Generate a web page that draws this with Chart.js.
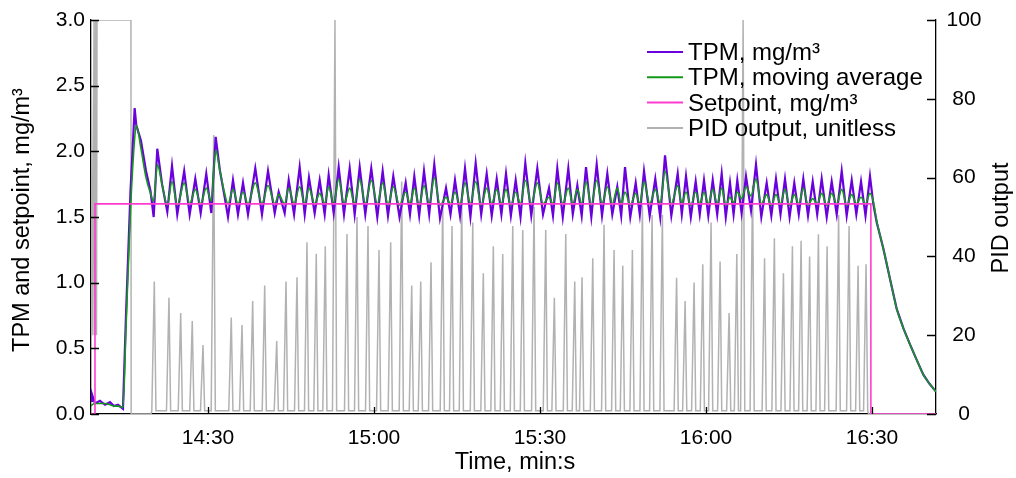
<!DOCTYPE html>
<html>
<head>
<meta charset="utf-8">
<script src="https://cdn.jsdelivr.net/npm/chart.js@4.4.1/dist/chart.umd.min.js"></script>
<style>
  html, body { margin: 0; padding: 0; background: #fff; }
</style>
</head>
<body>
<canvas id="pidCanvas" width="1016" height="478"></canvas>
<script>
// time in seconds (14:30 = 870 s)
const xMin = 848.86;
const xMax = 1001.57;
const tickSeconds = [870, 900, 930, 960, 990];
const tickLabels = ['14:30', '15:00', '15:30', '16:00', '16:30'];

// TPM raw / moving average, sampled at peaks and troughs
const tpmTime = [
  848.86, 849.04, 849.58, 850.48, 851.40, 852.29, 853.00, 853.74, 854.64, 855.18,
  856.00, 856.75, 857.04, 857.89, 858.80, 859.60, 860.19, 860.84, 861.70, 862.65,
  863.50, 864.45, 865.70, 866.69, 867.71, 868.68, 869.69, 870.60, 871.39, 872.17,
  872.90, 873.62, 874.52, 875.42, 876.33, 877.23, 878.55, 879.76, 880.85, 882.06,
  882.78, 883.86, 884.59, 885.56, 886.57, 887.48, 888.25, 889.28, 890.19, 891.09,
  891.81, 892.72, 893.62, 894.58, 895.61, 896.51, 897.42, 898.43, 899.51, 900.60,
  901.57, 902.53, 903.49, 904.61, 905.73, 906.51, 907.29, 908.17, 909.04, 909.98,
  910.90, 911.93, 913.02, 913.83, 914.64, 915.55, 916.45, 917.43, 918.38, 919.38,
  920.37, 921.28, 922.18, 923.03, 923.86, 924.74, 925.61, 926.48, 927.35, 928.43,
  929.52, 930.55, 931.63, 932.35, 933.13, 934.12, 935.12, 935.93, 936.75, 937.54,
  938.32, 939.28, 940.25, 941.21, 942.17, 943.07, 943.97, 944.68, 945.37, 946.32,
  947.30, 948.04, 948.80, 949.83, 950.84, 951.73, 952.60, 953.74, 954.89, 955.63,
  956.39, 957.26, 958.14, 958.88, 959.64, 960.42, 961.22, 962.03, 962.84, 963.58,
  964.34, 964.99, 965.66, 966.44, 967.23, 968.14, 969.04, 970.00, 970.97, 971.81,
  972.65, 973.47, 974.28, 975.11, 975.96, 976.77, 977.59, 978.44, 979.29, 980.10,
  980.91, 981.82, 982.72, 983.63, 984.53, 985.43, 986.34, 987.17, 988.02, 988.83,
  989.64, 990.24, 990.85, 992.05, 993.30, 994.47, 995.70, 996.87, 998.10, 999.28,
  1000.40, 1001.57
];
const tpmRaw = [
  0.10, 0.15, 0.08, 0.10, 0.07, 0.09, 0.06, 0.07, 0.04, 0.75,
  1.70, 2.33, 2.20, 2.08, 1.85, 1.70, 1.50, 2.02, 1.75, 1.54,
  1.89, 1.52, 1.85, 1.52, 1.79, 1.53, 1.83, 1.53, 2.11, 1.85,
  1.68, 1.50, 1.78, 1.52, 1.76, 1.52, 1.87, 1.52, 1.85, 1.53,
  1.69, 1.53, 1.78, 1.52, 1.88, 1.52, 1.80, 1.53, 1.78, 1.52,
  1.82, 1.53, 1.88, 1.52, 1.87, 1.52, 1.88, 1.52, 1.87, 1.50,
  1.85, 1.51, 1.81, 1.50, 1.76, 1.52, 1.81, 1.51, 1.85, 1.52,
  1.90, 1.49, 1.72, 1.52, 1.78, 1.51, 1.87, 1.50, 1.91, 1.52,
  1.83, 1.51, 1.79, 1.52, 1.83, 1.51, 1.78, 1.50, 1.91, 1.51,
  1.87, 1.52, 1.72, 1.51, 1.87, 1.50, 1.87, 1.52, 1.74, 1.51,
  1.88, 1.50, 1.90, 1.51, 1.83, 1.52, 1.73, 1.51, 1.88, 1.50,
  1.76, 1.52, 1.85, 1.51, 1.79, 1.50, 1.97, 1.51, 1.83, 1.52,
  1.81, 1.50, 1.77, 1.52, 1.78, 1.51, 1.78, 1.52, 1.83, 1.50,
  1.76, 1.52, 1.78, 1.53, 1.81, 1.55, 1.90, 1.50, 1.76, 1.51,
  1.79, 1.52, 1.79, 1.50, 1.76, 1.52, 1.79, 1.51, 1.77, 1.52,
  1.79, 1.50, 1.77, 1.52, 1.85, 1.51, 1.78, 1.52, 1.77, 1.51,
  1.81, 1.60, 1.46, 1.26, 1.02, 0.80, 0.65, 0.53, 0.41, 0.30,
  0.23, 0.17
];
const tpmAvg = [
  0.06, 0.07, 0.08, 0.08, 0.08, 0.07, 0.06, 0.06, 0.05, 0.65,
  1.55, 2.10, 2.20, 2.02, 1.80, 1.68, 1.62, 1.90, 1.75, 1.59,
  1.77, 1.59, 1.76, 1.60, 1.71, 1.60, 1.72, 1.62, 2.01, 1.85,
  1.70, 1.60, 1.71, 1.60, 1.69, 1.60, 1.76, 1.60, 1.74, 1.60,
  1.67, 1.60, 1.72, 1.60, 1.73, 1.60, 1.72, 1.60, 1.68, 1.60,
  1.73, 1.60, 1.79, 1.60, 1.72, 1.60, 1.79, 1.60, 1.78, 1.60,
  1.76, 1.59, 1.73, 1.59, 1.69, 1.60, 1.72, 1.59, 1.74, 1.60,
  1.80, 1.59, 1.65, 1.60, 1.69, 1.59, 1.76, 1.60, 1.77, 1.59,
  1.72, 1.60, 1.71, 1.60, 1.71, 1.59, 1.69, 1.60, 1.78, 1.60,
  1.76, 1.60, 1.65, 1.60, 1.76, 1.60, 1.72, 1.60, 1.71, 1.60,
  1.77, 1.59, 1.78, 1.60, 1.73, 1.60, 1.72, 1.60, 1.69, 1.59,
  1.68, 1.60, 1.77, 1.60, 1.71, 1.60, 1.85, 1.60, 1.74, 1.60,
  1.69, 1.59, 1.69, 1.60, 1.69, 1.60, 1.71, 1.60, 1.72, 1.59,
  1.65, 1.61, 1.69, 1.64, 1.73, 1.66, 1.79, 1.60, 1.67, 1.59,
  1.67, 1.60, 1.71, 1.59, 1.67, 1.60, 1.72, 1.59, 1.64, 1.60,
  1.68, 1.59, 1.68, 1.60, 1.71, 1.59, 1.67, 1.60, 1.65, 1.60,
  1.68, 1.62, 1.47, 1.26, 1.02, 0.80, 0.65, 0.53, 0.41, 0.30,
  0.23, 0.17
];

// setpoint, mg/m3
const spTime = [848.86, 849.58, 849.58, 989.80, 989.80, 1001.57];
const spValue = [0, 0, 1.6, 1.6, 0, 0];

// PID output: saturated start, one narrow pulse per cycle, zero at the end
const pidStartTime = [848.86, 849.20, 849.40, 849.55, 849.70, 849.85, 849.95, 856.08, 856.12, 859.70];
const pidStartValue = [100, 20, 100, 20, 100, 20, 100, 100, 0, 0];
const pidPeakTime = [
  860.30, 862.95, 865.07, 867.16, 869.10, 871.03, 874.21, 876.15, 878.08, 880.25,
  882.42, 884.10, 886.09, 887.89, 889.57, 891.20, 892.95, 895.12, 896.93, 898.92,
  900.91, 903.02, 905.01, 906.82, 908.45, 910.31, 912.42, 914.10, 915.86, 917.85,
  919.76, 921.57, 923.27, 925.08, 926.89, 928.93, 931.04, 932.60, 934.66, 936.28,
  937.60, 939.54, 941.58, 943.39, 944.96, 946.70, 948.51, 950.26, 952.12, 954.69,
  956.23, 957.85, 959.42, 960.92, 962.55, 964.18, 965.57, 966.71, 968.42, 970.59,
  972.36, 974.00, 975.62, 977.19, 978.73, 980.32, 981.89, 983.97, 985.86, 987.49,
  988.93
];
const pidPeakValue = [
  33.6, 29.5, 25.6, 23.6, 17.5, 70.8, 24.5, 22.6, 28.7, 32.6,
  18.5, 33.6, 34.7, 43.6, 40.7, 42.6, 100, 45.7, 50.0, 47.7,
  41.6, 43.6, 59.0, 32.6, 33.6, 38.5, 53.9, 47.7, 53.9, 48.6,
  35.7, 42.6, 40.6, 47.7, 46.7, 52.6, 46.7, 29.5, 45.7, 33.6,
  34.7, 39.5, 48.0, 41.6, 37.6, 41.6, 53.0, 50.5, 50.5, 34.6,
  28.7, 33.4, 38.0, 48.6, 38.7, 25.6, 40.6, 100, 58.0, 39.5,
  44.6, 35.7, 42.6, 44.0, 40.0, 45.6, 42.6, 50.5, 47.7, 37.6,
  38.0
];
const pidBase = 0.8;
const pidEndTime = [989.40, 1001.57];
const pidEndValue = [0, 0];

const seriesNames = ['TPM, mg/m³', 'TPM, moving average', 'Setpoint, mg/m³', 'PID output, unitless'];
const seriesColors = ['#6a00dc', '#12991a', '#ff3ccf', '#b2b2b2'];

const tpmPoints = tpmTime.map((t, i) => ({x: t, y: tpmRaw[i]}));
const avgPoints = tpmTime.map((t, i) => ({x: t, y: tpmAvg[i]}));
const spPoints = spTime.map((t, i) => ({x: t, y: spValue[i]}));
const pidPoints = pidStartTime.map((t, i) => ({x: t, y: pidStartValue[i]}));
pidPeakTime.forEach((t, i) => {
  pidPoints.push({x: t - 0.45, y: pidBase});
  pidPoints.push({x: t, y: pidPeakValue[i]});
  pidPoints.push({x: t + 0.3, y: pidBase});
});
pidEndTime.forEach((t, i) => pidPoints.push({x: t, y: pidEndValue[i]}));

Chart.defaults.font.family = '"Liberation Sans", Arial, sans-serif';
Chart.defaults.font.size = 21;
Chart.defaults.color = '#000';

const FONT = '"Liberation Sans", Arial, sans-serif';

// inward tick marks, axis titles and legend
const decorations = {
  id: 'decorations',
  afterDatasetsDraw(chart) {
    const ctx = chart.ctx;
    const area = chart.chartArea;
    const sx = chart.scales.x, sy = chart.scales.y, sy1 = chart.scales.y1;
    ctx.save();
    ctx.strokeStyle = '#000';
    ctx.lineWidth = 1.3;
    ctx.beginPath();
    sy.ticks.forEach(tk => {
      const y = Math.round(sy.getPixelForValue(tk.value)) + 0.5;
      ctx.moveTo(area.left, y); ctx.lineTo(area.left + 8, y);
    });
    sy1.ticks.forEach(tk => {
      const y = Math.round(sy1.getPixelForValue(tk.value)) + 0.5;
      ctx.moveTo(area.right, y); ctx.lineTo(area.right - 9, y);
    });
    tickSeconds.forEach(v => {
      const x = Math.round(sx.getPixelForValue(v)) + 0.5;
      ctx.moveTo(x, area.bottom); ctx.lineTo(x, area.bottom - 7);
    });
    ctx.stroke();

    // legend
    ctx.font = '24px ' + FONT;
    ctx.textAlign = 'left';
    ctx.textBaseline = 'alphabetic';
    seriesNames.forEach((name, i) => {
      const y = 52 + i * 25.3;
      ctx.strokeStyle = seriesColors[i];
      ctx.lineWidth = 2;
      ctx.beginPath();
      ctx.moveTo(647, y); ctx.lineTo(683, y);
      ctx.stroke();
      ctx.fillStyle = '#000';
      ctx.fillText(name, 688, y + 8);
    });

    // axis titles
    ctx.font = '23.5px ' + FONT;
    ctx.textAlign = 'center';
    ctx.textBaseline = 'middle';
    ctx.fillText('Time, min:s', 515, 463);
    ctx.save();
    ctx.translate(23, 220);
    ctx.rotate(-Math.PI / 2);
    ctx.fillText('TPM and setpoint, mg/m³', 0, 0);
    ctx.restore();
    ctx.save();
    ctx.translate(1002, 218);
    ctx.rotate(-Math.PI / 2);
    ctx.fillText('PID output', 0, 0);
    ctx.restore();
    ctx.restore();
  }
};

const noEdgePadding = (scale) => {
  scale.paddingTop = 0;
  scale.paddingBottom = 0;
};

const ctxPid = document.getElementById('pidCanvas').getContext('2d');
const pidChart = new Chart(ctxPid, {
  type: 'line',
  data: {
    datasets: [
      {
        label: seriesNames[0],
        data: tpmPoints,
        borderColor: seriesColors[0],
        borderWidth: 2.2,
        yAxisID: 'y',
        order: 3
      },
      {
        label: seriesNames[1],
        data: avgPoints,
        borderColor: seriesColors[1],
        borderWidth: 1.6,
        cubicInterpolationMode: 'monotone',
        yAxisID: 'y',
        order: 2
      },
      {
        label: seriesNames[2],
        data: spPoints,
        borderColor: seriesColors[2],
        borderWidth: 1.6,
        yAxisID: 'y',
        order: 1
      },
      {
        label: seriesNames[3],
        data: pidPoints,
        borderColor: seriesColors[3],
        borderWidth: 1.5,
        yAxisID: 'y1',
        order: 4
      }
    ]
  },
  options: {
    responsive: false,
    devicePixelRatio: 1,
    animation: false,
    parsing: false,
    elements: {
      point: { radius: 0 },
      line: { tension: 0, fill: false }
    },
    layout: { padding: { top: 20, right: 0, left: 0, bottom: 0 } },
    plugins: {
      legend: { display: false },
      tooltip: { enabled: false }
    },
    scales: {
      x: {
        type: 'linear',
        min: xMin,
        max: xMax,
        grid: { display: false, drawTicks: false },
        border: { display: true, color: '#000', width: 1.3 },
        afterBuildTicks: (scale) => {
          scale.ticks = tickSeconds.map(v => ({value: v}));
        },
        afterFit: (scale) => { scale.height = 64; },
        ticks: {
          autoSkip: false,
          maxRotation: 0,
          padding: 12,
          callback: (value, index) => tickLabels[index]
        }
      },
      y: {
        position: 'left',
        min: 0,
        max: 3,
        grid: { display: false, drawTicks: false },
        border: { display: true, color: '#000', width: 1.3 },
        afterFit: (scale) => { scale.width = 91; noEdgePadding(scale); },
        ticks: {
          stepSize: 0.5,
          padding: 6,
          callback: (value) => value.toFixed(1)
        }
      },
      y1: {
        position: 'right',
        min: 0,
        max: 100,
        grid: { display: false, drawTicks: false },
        border: { display: true, color: '#000', width: 1.3 },
        afterFit: (scale) => { scale.width = 80; noEdgePadding(scale); },
        ticks: {
          stepSize: 20,
          padding: 10.5,
          crossAlign: 'center'
        }
      }
    }
  },
  plugins: [decorations]
});
</script>
</body>
</html>
